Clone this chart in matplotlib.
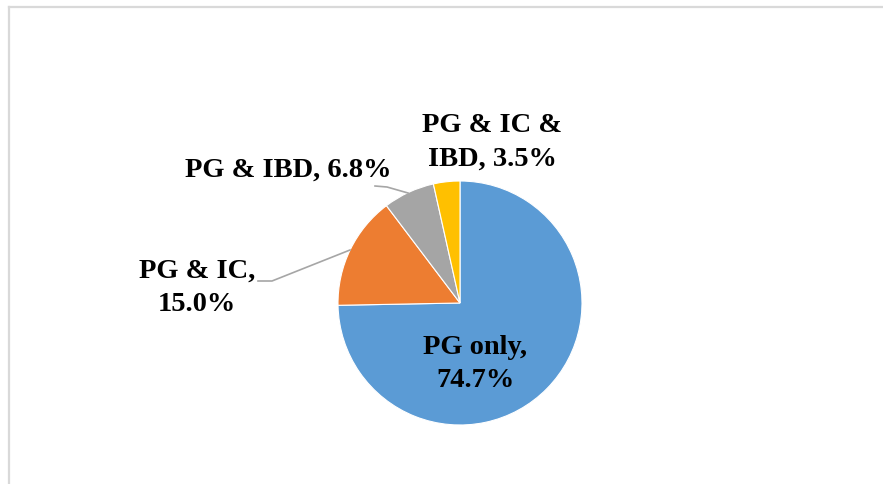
import matplotlib.pyplot as plt
from matplotlib.lines import Line2D

# Share of patients by diagnosis combination
labels = ["PG only", "PG & IC", "PG & IBD", "PG & IC & IBD"]
shares = [74.7, 15.0, 6.8, 3.5]
colors = ["#5B9BD5", "#ED7D31", "#A5A5A5", "#FFC000"]

W, H = 883, 485
plt.rcParams['font.family'] = ['Liberation Serif', 'DejaVu Serif']

fig = plt.figure(figsize=(W / 100, H / 100), dpi=100)
ax = fig.add_axes([0, 0, 1, 1])

# pixel coordinates measured from the top-left corner
def py(y):
    return H - y

ax.pie(
    shares,
    colors=colors,
    startangle=90,
    counterclock=False,
    center=(460, py(304)),
    radius=122,
    wedgeprops=dict(edgecolor="white", linewidth=0.8),
    frame=True,
)
ax.set_xlim(0, W)
ax.set_ylim(0, H)
ax.set_aspect('equal')
ax.axis('off')

fs = 20.5
txt = dict(fontsize=fs, fontweight='bold', color='black',
           ha='center', va='center', linespacing=1.45)

ax.text(475, py(364), f"{labels[0]},\n{shares[0]:.1f}%", **txt)
ax.text(197, py(288), f"{labels[1]},\n{shares[1]:.1f}%", **txt)
ax.text(288, py(170), f"{labels[2]}, {shares[2]:.1f}%", **txt)
ax.text(492, py(142), f"PG & IC &\nIBD, {shares[3]:.1f}%", **txt)

# leader lines
lead = dict(color="#A6A6A6", linewidth=1.2)
ax.plot([258, 272, 350], [py(282), py(282), py(251)], **lead)
ax.plot([375, 387, 408], [py(187), py(188), py(194)], **lead)

# chart area border (top and left edges)
fig.add_artist(Line2D([8.5 / W, 1], [1 - 7.5 / H, 1 - 7.5 / H],
                      transform=fig.transFigure, color="#D9D9D9", linewidth=1.6))
fig.add_artist(Line2D([8.5 / W, 8.5 / W], [0, 1 - 7.5 / H],
                      transform=fig.transFigure, color="#D9D9D9", linewidth=1.6))

fig.savefig("out.png", dpi=100, facecolor="white")
